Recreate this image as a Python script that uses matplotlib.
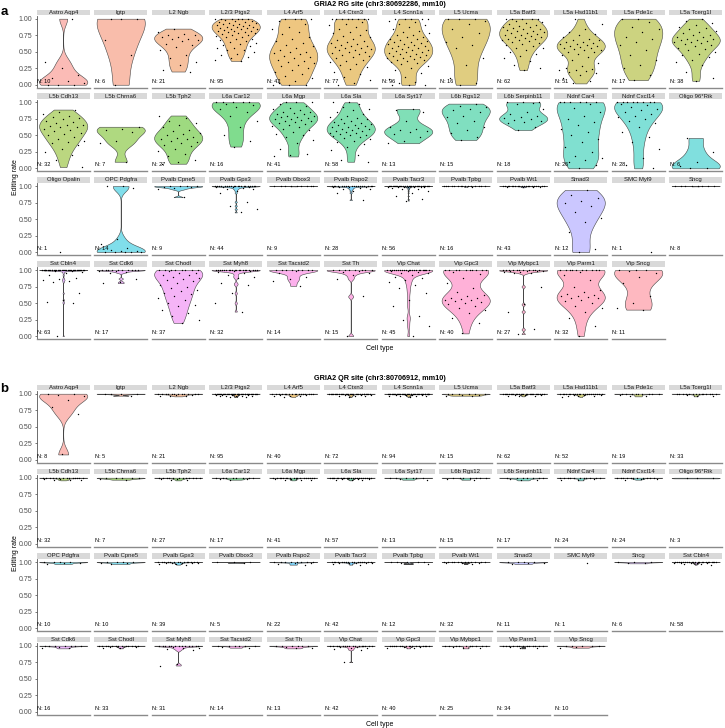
import numpy as np
import matplotlib
matplotlib.use("Agg")
import matplotlib.pyplot as plt

plt.rcParams['font.family'] = ['Liberation Sans', 'DejaVu Sans']

W, H = 725, 728

# ------------------------------------------------------------------ data
rg_title = "GRIA2 RG site (chr3:80692286, mm10)"
qr_title = "GRIA2 QR site (chr3:80706912, mm10)"
x_label = "Cell type"
y_label = "Editing rate"
y_ticks = [0, 0.25, 0.5, 0.75, 1.0]
y_tick_labels = ["0.00", "0.25", "0.50", "0.75", "1.00"]

rg_cells = ["Astro Aqp4", "Igtp", "L2 Ngb", "L2/3 Ptgs2", "L4 Arf5", "L4 Ctxn3", "L4 Scnn1a",
            "L5 Ucma", "L5a Batf3", "L5a Hsd11b1", "L5a Pde1c", "L5a Tcerg1l",
            "L5b Cdh13", "L5b Chrna6", "L5b Tph2", "L6a Car12", "L6a Mgp", "L6a Sla",
            "L6a Syt17", "L6b Rgs12", "L6b Serpinb11", "Ndnf Car4", "Ndnf Cxcl14", "Oligo 96*Rik",
            "Oligo Opalin", "OPC Pdgfra", "Pvalb Cpne5", "Pvalb Gpx3", "Pvalb Obox3", "Pvalb Rspo2",
            "Pvalb Tacr3", "Pvalb Tpbg", "Pvalb Wt1", "Smad3", "SMC Myl9", "Sncg",
            "Sst Cbln4", "Sst Cdk6", "Sst Chodl", "Sst Myh8", "Sst Tacstd2", "Sst Th",
            "Vip Chat", "Vip Gpc3", "Vip Mybpc1", "Vip Parm1", "Vip Sncg"]
rg_n = [10, 6, 21, 95, 42, 77, 96, 16, 62, 51, 17, 38,
        32, 7, 27, 16, 41, 58, 13, 15, 18, 26, 28, 6,
        1, 14, 9, 44, 9, 28, 56, 16, 43, 12, 1, 8,
        63, 17, 37, 32, 14, 15, 45, 40, 27, 32, 11]
rg_values = [
    [0, 0, 0, 0.02, 0.05, 0.1, 0.15, 0.25, 0.35, 1.0],
    [1, 1, 1, 0.68, 0.45, 0.0],
    [0.85, 0.8, 0.77, 0.76, 0.75, 0.73, 0.72, 0.7, 0.7, 0.68, 0.66, 0.62, 0.6, 0.57, 0.52, 0.45, 0.4,
     0.35, 0.3, 0.22, 0.2],
    [1, 1, 1, 1, 1, 1, 0.98, 0.97, 0.96, 0.95, 0.95, 0.94, 0.93, 0.92, 0.92, 0.91, 0.9, 0.9, 0.89,
     0.88, 0.88, 0.87, 0.86, 0.86, 0.85, 0.85, 0.84, 0.83, 0.82, 0.82, 0.81, 0.8, 0.8, 0.79, 0.78,
     0.77, 0.76, 0.75, 0.74, 0.73, 0.72, 0.7, 0.69, 0.68, 0.66, 0.65, 0.63, 0.62, 0.6, 0.58, 0.56,
     0.55, 0.53, 0.52, 0.5, 0.47, 0.45, 0.42, 0.4, 0.38, 0.36],
    [1, 1, 1, 1, 0.97, 0.92, 0.88, 0.85, 0.8, 0.77, 0.73, 0.7, 0.66, 0.63, 0.6, 0.58, 0.55, 0.53,
     0.5, 0.5, 0.48, 0.46, 0.44, 0.42, 0.4, 0.38, 0.36, 0.35, 0.33, 0.3, 0.28, 0.25, 0.22, 0.2,
     0.17, 0.13, 0.1, 0.06, 0.02, 0, 0, 0],
    [1, 1, 1, 1, 1, 1, 1, 1, 0.95, 0.92, 0.9, 0.88, 0.85, 0.83, 0.8, 0.78, 0.76, 0.74, 0.72, 0.7,
     0.68, 0.66, 0.65, 0.63, 0.62, 0.6, 0.59, 0.58, 0.57, 0.56, 0.55, 0.54, 0.53, 0.52, 0.5, 0.49,
     0.48, 0.46, 0.45, 0.44, 0.42, 0.4, 0.38, 0.36, 0.34, 0.32, 0.3, 0.27, 0.24, 0.2, 0.16, 0.12,
     0.07, 0.02, 0],
    [1, 1, 1, 1, 1, 0.97, 0.95, 0.92, 0.9, 0.87, 0.84, 0.82, 0.8, 0.78, 0.76, 0.75, 0.73, 0.72, 0.7,
     0.69, 0.68, 0.66, 0.65, 0.64, 0.63, 0.62, 0.61, 0.6, 0.59, 0.58, 0.57, 0.56, 0.55, 0.54, 0.53,
     0.52, 0.51, 0.5, 0.49, 0.48, 0.47, 0.46, 0.45, 0.44, 0.43, 0.42, 0.41, 0.4, 0.39, 0.38, 0.37,
     0.36, 0.35, 0.33, 0.31, 0.29, 0.26, 0.22, 0.18, 0.12, 0.08, 0.04, 0.02, 0, 0, 0],
    [1, 1, 1, 0.97, 0.92, 0.85, 0.78, 0.72, 0.65, 0.6, 0.55, 0.4, 0.3, 0.1, 0.02, 0],
    [1, 1, 1, 1, 1, 0.97, 0.95, 0.93, 0.92, 0.9, 0.89, 0.88, 0.87, 0.86, 0.85, 0.84, 0.83, 0.82,
     0.81, 0.8, 0.79, 0.78, 0.77, 0.76, 0.75, 0.74, 0.73, 0.72, 0.71, 0.7, 0.69, 0.68, 0.67, 0.66,
     0.65, 0.63, 0.62, 0.6, 0.58, 0.56, 0.55, 0.52, 0.5, 0.47, 0.44, 0.4, 0.36, 0.3, 0.26, 0.22],
    [1, 0.92, 0.85, 0.8, 0.77, 0.75, 0.73, 0.7, 0.68, 0.67, 0.65, 0.64, 0.63, 0.62, 0.61, 0.6, 0.59,
     0.58, 0.57, 0.56, 0.55, 0.54, 0.53, 0.52, 0.5, 0.49, 0.47, 0.45, 0.42, 0.38, 0.33, 0.28, 0.26,
     0.24, 0.23, 0.22, 0.21, 0.2, 0.18, 0.15, 0.1, 0.05, 0.02],
    [1, 1, 0.95, 0.88, 0.85, 0.8, 0.73, 0.7, 0.65, 0.6, 0.52, 0.45, 0.38, 0.3, 0.25, 0.15, 0.07],
    [1, 0.97, 0.93, 0.9, 0.88, 0.86, 0.84, 0.82, 0.8, 0.78, 0.76, 0.75, 0.73, 0.72, 0.7, 0.69, 0.68,
     0.67, 0.66, 0.65, 0.64, 0.63, 0.62, 0.6, 0.58, 0.56, 0.54, 0.52, 0.5, 0.47, 0.45, 0.42, 0.38,
     0.34, 0.3, 0.2, 0.1, 0.06],
    [0.89, 0.86, 0.83, 0.8, 0.78, 0.76, 0.74, 0.72, 0.7, 0.68, 0.66, 0.65, 0.64, 0.63, 0.62, 0.6,
     0.58, 0.56, 0.54, 0.52, 0.5, 0.47, 0.45, 0.42, 0.4, 0.38, 0.35, 0.3, 0.25, 0.2, 0.12, 0.02],
    [0.63, 0.6, 0.58, 0.55, 0.42, 0.38, 0.1],
    [0.8, 0.76, 0.72, 0.68, 0.65, 0.62, 0.58, 0.56, 0.54, 0.52, 0.5, 0.48, 0.46, 0.45, 0.44, 0.42,
     0.4, 0.38, 0.36, 0.34, 0.3, 0.27, 0.22, 0.18, 0.12, 0.09, 0.07],
    [1, 1, 1, 1, 1, 0.98, 0.96, 0.93, 0.9, 0.85, 0.8, 0.72, 0.62, 0.5, 0.42, 0.33],
    [1, 1, 1, 0.97, 0.94, 0.92, 0.9, 0.88, 0.86, 0.85, 0.84, 0.83, 0.82, 0.8, 0.79, 0.78, 0.77,
     0.76, 0.75, 0.74, 0.73, 0.72, 0.71, 0.7, 0.68, 0.67, 0.66, 0.64, 0.62, 0.6, 0.58, 0.55, 0.52,
     0.5, 0.47, 0.43, 0.38, 0.3, 0.22, 0.2, 0.18],
    [1, 1, 0.97, 0.93, 0.9, 0.88, 0.85, 0.83, 0.8, 0.78, 0.76, 0.75, 0.74, 0.72, 0.7, 0.69, 0.68,
     0.67, 0.66, 0.65, 0.64, 0.63, 0.62, 0.61, 0.6, 0.59, 0.58, 0.57, 0.56, 0.55, 0.54, 0.53, 0.52,
     0.51, 0.5, 0.49, 0.48, 0.46, 0.44, 0.42, 0.4, 0.37, 0.33, 0.28, 0.2, 0.12, 0.1],
    [0.9, 0.88, 0.86, 0.72, 0.62, 0.6, 0.58, 0.56, 0.55, 0.52, 0.48, 0.42, 0.38],
    [0.98, 0.95, 0.93, 0.9, 0.88, 0.85, 0.8, 0.78, 0.72, 0.68, 0.62, 0.58, 0.53, 0.47, 0.43],
    [1, 1, 1, 0.99, 0.97, 0.9, 0.86, 0.82, 0.8, 0.78, 0.76, 0.75, 0.73, 0.72, 0.7, 0.68, 0.62, 0.58],
    [1, 1, 1, 1, 1, 1, 0.97, 0.92, 0.85, 0.8, 0.75, 0.7, 0.65, 0.6, 0.55, 0.5, 0.45, 0.4, 0.33,
     0.25, 0.18, 0.15, 0.12, 0.1, 0.05, 0],
    [1, 1, 1, 1, 1, 1, 1, 1, 0.98, 0.96, 0.93, 0.9, 0.88, 0.85, 0.82, 0.8, 0.78, 0.75, 0.72, 0.68,
     0.62, 0.55, 0.48, 0.4, 0.3, 0.15, 0.05, 0],
    [0.46, 0.25, 0.1, 0.03, 0, 0],
    [0.0],
    [1, 1, 0.97, 0.2, 0.12, 0.06, 0.03, 0.02, 0.01, 0, 0, 0, 0, 0],
    [1, 1, 1, 1, 0.99, 0.98, 0.97, 0.95, 0.83],
    [1, 1, 1, 1, 1, 1, 1, 1, 1, 1, 1, 1, 1, 1, 1, 1, 1, 1, 1, 1, 0.99, 0.99, 0.98, 0.98, 0.97,
     0.96, 0.95, 0.93, 0.9, 0.76, 0.7, 0.65, 0.6],
    [1, 1, 1, 1, 1, 1, 1, 1, 0.995],
    [1, 1, 1, 1, 1, 1, 1, 1, 1, 1, 1, 1, 1, 1, 1, 1, 1, 1, 0.99, 0.99, 0.98, 0.98, 0.97, 0.96,
     0.95, 0.93, 0.9, 0.79],
    [1, 1, 1, 1, 1, 1, 1, 1, 1, 1, 1, 1, 1, 1, 1, 1, 1, 1, 1, 1, 1, 1, 1, 1, 1, 1, 1, 1, 1, 1,
     0.99, 0.99, 0.99, 0.99, 0.98, 0.98, 0.98, 0.97, 0.96, 0.95, 0.93, 0.9, 0.85, 0.8, 0.78],
    [1, 1, 1, 1, 1, 1, 1, 1, 1, 1, 1, 1, 1, 1, 0.995, 0.99],
    [1, 1, 1, 1, 1, 1, 1, 1, 1, 1, 1, 1, 1, 1, 1, 1, 1, 1, 1, 1, 0.99, 0.99, 0.985, 0.98],
    [0.94, 0.86, 0.82, 0.78, 0.74, 0.7, 0.6, 0.52, 0.45, 0.3, 0.05, 0.0],
    [0.0],
    [1, 1, 1, 1, 1, 1, 1, 0.995],
    [1, 1, 1, 1, 1, 1, 1, 1, 1, 1, 1, 1, 1, 1, 1, 1, 1, 1, 1, 1, 1, 1, 1, 1, 1, 1, 1, 1, 1, 1,
     1, 1, 1, 1, 1,
     0.99, 0.98, 0.97, 0.95, 0.92, 0.88, 0.86, 0.85, 0.84, 0.82, 0.65, 0.55, 0.52, 0.5, 0.0],
    [1, 1, 1, 1, 1, 1, 1, 1, 1, 1, 0.99, 0.98, 0.97, 0.96, 0.87, 0.82, 0.8],
    [1, 1, 1, 1, 1, 1, 1, 1, 0.98, 0.96, 0.95, 0.93, 0.92, 0.9, 0.88, 0.87, 0.85, 0.83, 0.8, 0.78,
     0.75, 0.72, 0.7, 0.68, 0.65, 0.63, 0.6, 0.58, 0.55, 0.5, 0.47, 0.45, 0.4, 0.35, 0.3, 0.25, 0.2],
    [1, 1, 1, 1, 1, 1, 1, 1, 1, 1, 1, 1, 1, 1, 1, 1, 1, 1, 1, 1, 0.99, 0.98, 0.97, 0.95, 0.92,
     0.9, 0.88, 0.8, 0.78, 0.65, 0.5, 0.37],
    [1, 1, 1, 1, 1, 1, 1, 1, 0.98, 0.95, 0.9, 0.87, 0.83, 0.76],
    [1, 1, 1, 1, 1, 1, 1, 1, 0.99, 0.97, 0.95, 0.92, 0.87, 0.6, 0.0],
    [1, 1, 1, 1, 1, 1, 1, 1, 1, 1, 1, 1, 1, 1, 1, 1, 1, 1, 1, 1, 1, 1,
     0.99, 0.98, 0.97, 0.96, 0.95, 0.93, 0.9, 0.88, 0.85, 0.82, 0.78, 0.72, 0.65, 0.55, 0.45, 0.3,
     0.25, 0.15, 0.0],
    [1, 1, 1, 1, 1, 1, 1, 1, 1, 1, 0.97, 0.94, 0.88, 0.8, 0.72, 0.66, 0.62, 0.6, 0.58, 0.57, 0.56,
     0.55, 0.54, 0.53, 0.52, 0.5, 0.48, 0.46, 0.43, 0.4, 0.35, 0.28, 0.2, 0.04],
    [1, 1, 1, 1, 1, 1, 1, 1, 1, 1, 0.995, 0.99, 0.99, 0.985, 0.98, 0.975, 0.97, 0.96, 0.95, 0.75,
     0.48, 0.37, 0.1, 0.03],
    [1, 1, 1, 1, 1, 1, 1, 1, 1, 1, 0.97, 0.92, 0.85, 0.75, 0.7, 0.66, 0.64, 0.62, 0.61, 0.6, 0.59,
     0.58, 0.57, 0.55, 0.53, 0.5, 0.46, 0.42, 0.36, 0.28, 0.15, 0.0],
    [1, 1, 1, 0.98, 0.95, 0.9, 0.8, 0.6, 0.5, 0.42, 0.4],
]

qr_cells = ["Astro Aqp4", "Igtp", "L2 Ngb", "L2/3 Ptgs2", "L4 Arf5", "L4 Ctxn3", "L4 Scnn1a",
            "L5 Ucma", "L5a Batf3", "L5a Hsd11b1", "L5a Pde1c", "L5a Tcerg1l",
            "L5b Cdh13", "L5b Chrna6", "L5b Tph2", "L6a Car12", "L6a Mgp", "L6a Sla",
            "L6a Syt17", "L6b Rgs12", "L6b Serpinb11", "Ndnf Car4", "Ndnf Cxcl14", "Oligo 96*Rik",
            "OPC Pdgfra", "Pvalb Cpne5", "Pvalb Gpx3", "Pvalb Obox3", "Pvalb Rspo2", "Pvalb Tacr3",
            "Pvalb Tpbg", "Pvalb Wt1", "Smad3", "SMC Myl9", "Sncg", "Sst Cbln4",
            "Sst Cdk6", "Sst Chodl", "Sst Myh8", "Sst Tacstd2", "Sst Th", "Vip Chat",
            "Vip Gpc3", "Vip Mybpc1", "Vip Parm1", "Vip Sncg"]
qr_n = [8, 5, 21, 95, 40, 72, 94, 15, 62, 52, 19, 33,
        32, 7, 27, 17, 41, 57, 13, 15, 17, 24, 24, 3,
        10, 10, 39, 5, 22, 42, 12, 32, 11, 1, 6, 58,
        16, 33, 31, 14, 13, 42, 40, 25, 34, 10]
qr_values = [
    [1, 1, 0.98, 0.97, 0.9, 0.8, 0.7, 0.08],
    [1, 1, 1, 0.99, 0.97],
    [1, 1, 1, 1, 1, 1, 1, 1, 1, 1, 0.99, 0.99, 0.98, 0.98, 0.97, 0.97, 0.96],
    [1, 1, 1, 1, 1, 1, 1, 1, 1, 1, 1, 1, 1, 1, 1, 1, 1, 1, 1, 1, 1, 1, 1, 1, 1, 1, 1, 1, 1, 1,
     0.99, 0.99, 0.99, 0.99, 0.99, 0.98, 0.98, 0.98, 0.98, 0.97, 0.97, 0.97, 0.96, 0.96, 0.95, 0.95],
    [1, 1, 1, 1, 1, 1, 1, 1, 1, 1, 1, 1, 1, 1, 1, 0.99, 0.99, 0.98, 0.98, 0.97, 0.97, 0.96, 0.95],
    [1, 1, 1, 1, 1, 1, 1, 1, 1, 1, 1, 1, 1, 1, 1, 1, 1, 1, 1, 1, 1, 1, 1, 1, 1,
     0.99, 0.99, 0.99, 0.99, 0.98, 0.98, 0.98, 0.97, 0.97, 0.96, 0.95],
    [1, 1, 1, 1, 1, 1, 1, 1, 1, 1, 1, 1, 1, 1, 1, 1, 1, 1, 1, 1, 1, 1, 1, 1, 1, 1, 1, 1, 1, 1,
     0.99, 0.99, 0.99, 0.99, 0.99, 0.98, 0.98, 0.98, 0.98, 0.97, 0.97, 0.97, 0.96, 0.95],
    [1, 1, 1, 1, 0.99, 0.99, 0.98, 0.98, 0.97, 0.97],
    [1, 1, 1, 1, 1, 1, 1, 1, 1, 1, 1, 1, 1, 1, 1, 1, 1, 1, 1, 1, 1, 1,
     0.99, 0.99, 0.99, 0.99, 0.98, 0.98, 0.98, 0.97, 0.97, 0.96],
    [1, 1, 1, 1, 1, 1, 1, 1, 1, 1, 1, 1, 1, 1, 1, 1, 1, 1,
     0.99, 0.99, 0.99, 0.98, 0.98, 0.98, 0.97, 0.97, 0.96, 0.95],
    [1, 1, 1, 1, 1, 1, 1, 1, 0.99, 0.98, 0.97, 0.96],
    [1, 1, 1, 1, 1, 1, 1, 1, 1, 1, 1, 1, 0.99, 0.99, 0.98, 0.97, 0.96],
    [1, 1, 1, 1, 1, 1, 1, 1, 1, 1, 1, 1, 0.99, 0.99, 0.98, 0.98, 0.97, 0.97, 0.96],
    [1, 1, 1, 0.99, 0.99, 0.98, 0.97],
    [1, 1, 1, 1, 1, 1, 1, 1, 1, 1, 0.99, 0.99, 0.98, 0.98, 0.97, 0.96],
    [1, 1, 1, 1, 1, 1, 1, 0.99, 0.98, 0.98, 0.97],
    [1, 1, 1, 1, 1, 1, 1, 1, 1, 1, 1, 1, 1, 1, 1, 0.99, 0.99, 0.99, 0.98, 0.98, 0.97, 0.97, 0.96],
    [1, 1, 1, 1, 1, 1, 1, 1, 1, 1, 1, 1, 1, 1, 1, 1, 1, 1, 1, 1,
     0.99, 0.99, 0.99, 0.98, 0.98, 0.98, 0.97, 0.97, 0.96],
    [1, 1, 1, 1, 1, 0.99, 0.98, 0.97],
    [1, 1, 1, 1, 1, 1, 0.99, 0.98, 0.97],
    [1, 1, 1, 1, 1, 1, 0.99, 0.98, 0.97, 0.96],
    [1, 1, 1, 1, 1, 1, 1, 1, 1, 0.99, 0.99, 0.98, 0.97, 0.96],
    [1, 1, 1, 1, 1, 1, 1, 1, 1, 0.99, 0.99, 0.98, 0.98, 0.97],
    [1, 0.995, 0.99],
    [1, 1, 1, 1, 0.99, 0.98, 0.97],
    [1, 1, 1, 1, 0.99, 0.98, 0.97],
    [1, 1, 1, 1, 1, 1, 1, 1, 1, 1, 1, 1, 1, 1, 0.99, 0.99, 0.99, 0.98, 0.98, 0.97, 0.97, 0.96],
    [1, 1, 1, 0.99],
    [1, 1, 1, 1, 1, 1, 1, 1, 0.99, 0.98, 0.97, 0.96],
    [1, 1, 1, 1, 1, 1, 1, 1, 1, 1, 1, 1, 1, 1, 1, 1, 0.99, 0.99, 0.99, 0.98, 0.98, 0.97, 0.96],
    [1, 1, 1, 1, 1, 0.99, 0.97],
    [1, 1, 1, 1, 1, 1, 1, 1, 1, 1, 1, 1, 0.99, 0.99, 0.98, 0.97],
    [1, 1, 1, 1, 0.99, 0.98, 0.97],
    [0.99],
    [1, 1, 1, 0.99, 0.98],
    [1, 1, 1, 1, 1, 1, 1, 1, 1, 1, 1, 1, 1, 1, 1, 1, 1, 1, 1, 1, 1, 1,
     0.99, 0.99, 0.99, 0.98, 0.98, 0.97, 0.97, 0.96],
    [1, 1, 1, 1, 1, 1, 0.99, 0.98, 0.97, 0.96],
    [1, 1, 1, 1, 1, 1, 1, 1, 1, 1, 1, 1, 0.99, 0.98, 0.98, 0.97, 0.96],
    [1, 1, 1, 1, 1, 1, 1, 1, 1, 1, 1, 1, 0.99, 0.98, 0.97, 0.96, 0.95, 0.93, 0.72, 0.7],
    [1, 1, 1, 1, 1, 0.99, 0.98, 0.97],
    [1, 1, 1, 1, 1, 0.99, 0.98, 0.97, 0.96],
    [1, 1, 1, 1, 1, 1, 1, 1, 1, 1, 1, 1, 1, 1, 1, 0.99, 0.98, 0.98, 0.97, 0.96, 0.95, 0.94, 0.75],
    [1, 1, 1, 1, 1, 1, 1, 1, 1, 1, 1, 1, 1, 1, 0.99, 0.99, 0.98, 0.98, 0.97, 0.96],
    [1, 1, 1, 1, 1, 1, 1, 1, 1, 0.99, 0.98, 0.97, 0.96],
    [1, 1, 1, 1, 1, 1, 1, 1, 1, 1, 1, 1, 0.99, 0.98, 0.97, 0.96],
    [1, 1, 1, 1, 0.99, 0.98, 0.97],
]

# ------------------------------------------------------------------ helpers
def hcl_color(h, c=100.0, l=65.0):
    hr = np.deg2rad(h)
    u, v = c * np.cos(hr), c * np.sin(hr)
    Xn, Yn, Zn = 95.047, 100.0, 108.883
    den = Xn + 15 * Yn + 3 * Zn
    un, vn = 4 * Xn / den, 9 * Yn / den
    Y = Yn * ((l + 16) / 116) ** 3
    up = u / (13 * l) + un
    vp = v / (13 * l) + vn
    X = 9 * Y * up / (4 * vp)
    Z = (9 * Y / vp - X - 15 * Y) / 3
    M = np.array([[3.2404542, -1.5371385, -0.4985314],
                  [-0.9692660, 1.8760108, 0.0415560],
                  [0.0556434, -0.2040259, 1.0572252]])
    rgb = M @ (np.array([X, Y, Z]) / 100.0)
    rgb = np.where(rgb <= 0.0031308, 12.92 * rgb, 1.055 * np.clip(rgb, 0, None) ** (1 / 2.4) - 0.055)
    return np.clip(rgb, 0, 1)


def hue_pal(n):
    return [hcl_color(15 + 360.0 * i / n) for i in range(n)]


def nrd0_factor(v):
    n = len(v)
    sd = v.std(ddof=1)
    q75, q25 = np.percentile(v, [75, 25])
    lo = min(sd, (q75 - q25) / 1.34)
    if lo <= 0:
        lo = sd
    bw = 0.9 * lo * n ** -0.2
    return bw / sd


fig = plt.figure(figsize=(W / 100, H / 100), dpi=100)


def add_ax(l, t, w, h):
    return fig.add_axes([l / W, 1 - (t + h) / H, w / W, h / H])


COL0, PITCH, PW, PH = 36.7, 57.5, 53.0, 71.7
YLIM = (-0.045, 1.041)


def draw_panel(cells, ns, values, row_tops, title, title_y, tag, tag_y, xlab_y):
    colors = hue_pal(len(cells))
    for i, (cell, nn, vals) in enumerate(zip(cells, ns, values)):
        r, c = divmod(i, 12)
        left, top = COL0 + c * PITCH, row_tops[r]
        ax = add_ax(left, top, PW, PH)
        ax.set_xlim(0.505, 1.495)
        ax.set_ylim(*YLIM)
        v = np.asarray(vals, float)
        fill = 0.5 * colors[i] + 0.5
        if len(v) >= 2 and np.ptp(v) > 0:
            parts = ax.violinplot([v], positions=[1], widths=0.9, showextrema=False,
                                  points=800, bw_method=nrd0_factor(v))
            for b in parts['bodies']:
                b.set_alpha(1)
                b.set_facecolor(fill)
                b.set_edgecolor('#454545')
                b.set_linewidth(0.4)
                b.set_zorder(2)
        jit = ((np.arange(len(v)) * 0.6180339887 + 0.137 * (i + 1)) % 1.0 - 0.5) * 0.8
        ax.scatter(1 + jit, v, s=1.0, c='black', linewidths=0, zorder=3)
        ax.text(0.515, 0.015, f"N: {nn}", fontsize=4.0, ha='left', va='bottom', zorder=4)
        for s in ('top', 'right'):
            ax.spines[s].set_visible(False)
        ax.spines['bottom'].set_color('#8a8a8a')
        ax.spines['bottom'].set_linewidth(1.0)
        ax.set_xticks([])
        if c == 0:
            ax.spines['left'].set_color('#555555')
            ax.spines['left'].set_linewidth(0.6)
            ax.set_yticks(y_ticks)
            ax.set_yticklabels(y_tick_labels)
            ax.tick_params(axis='y', length=1.8, width=0.5, color='#444444',
                           labelsize=5.0, labelcolor='#4d4d4d', pad=1.2)
        else:
            ax.spines['left'].set_visible(False)
            ax.set_yticks([])
        ax.set_facecolor('none')
        # strip
        sax = add_ax(left, top - 6.2, PW, 5.6)
        sax.set_facecolor('#d9d9d9')
        for s in sax.spines.values():
            s.set_visible(False)
        sax.set_xticks([])
        sax.set_yticks([])
        sax.text(0.5, 0.5, cell, ha='center', va='center', fontsize=4.3,
                 color='#1a1a1a', transform=sax.transAxes)
    cx = (COL0 + 11 * PITCH + PW + COL0) / 2
    fig.text(cx / W, 1 - title_y / H, title, ha='center', va='center',
             fontsize=5.2, fontweight='bold')
    fig.text(0.5 / W, 1 - tag_y / H, tag, ha='left', va='baseline',
             fontsize=9.5, fontweight='bold')
    fig.text(cx / W, 1 - xlab_y / H, x_label, ha='center', va='center', fontsize=5.0)
    ymid = (row_tops[0] + row_tops[-1] + PH) / 2
    fig.text(15.5 / W, 1 - ymid / H, y_label, ha='center', va='center',
             rotation=90, fontsize=5.0)


draw_panel(rg_cells, rg_n, rg_values, [16.0, 99.6, 183.3, 267.3],
           rg_title, 4.3, "a", 15.0, 348.5)
draw_panel(qr_cells, qr_n, qr_values, [391.0, 475.0, 559.3, 643.0],
           qr_title, 379.0, "b", 391.5, 724.0)

fig.savefig("out.png", dpi=100)
